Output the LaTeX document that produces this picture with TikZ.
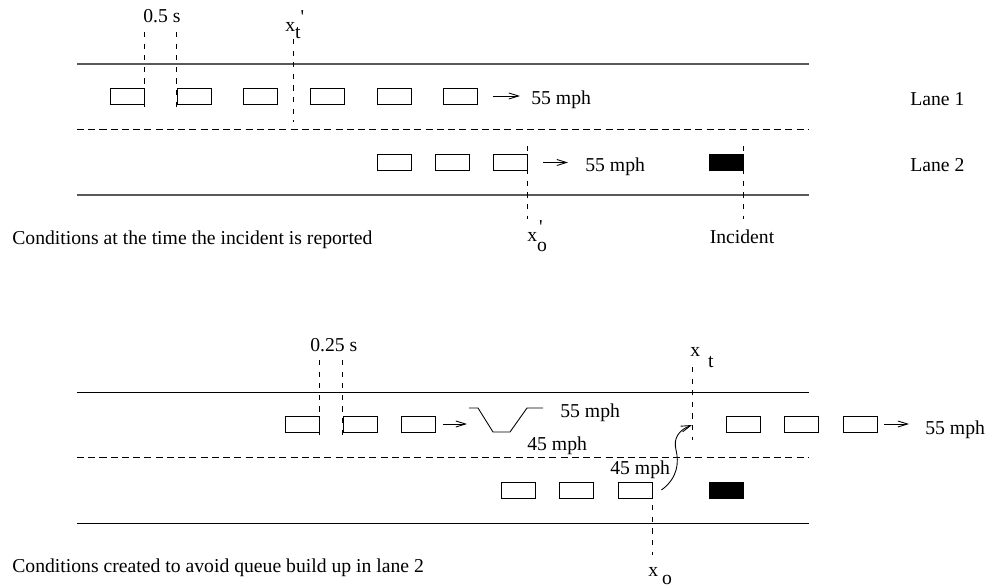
\documentclass[tikz,border=0pt]{standalone}
\usepackage{fontspec}
\setmainfont{Liberation Serif}
\newfontfamily\timesf{Liberation Serif}
\usepackage{tikz}
\usetikzlibrary{arrows.meta}

\tikzset{
  car/.style={draw, line width=0.5pt, minimum width=0.68cm, minimum height=0.32cm, inner sep=0pt},
  wreck/.style={car, fill=black},
  txt/.style={font=\timesf\fontsize{11.2}{13}\selectfont, inner sep=0pt},
  road/.style={line width=0.55pt},
  lane/.style={line width=0.55pt, dash pattern=on 4pt off 2.4pt},
  tick/.style={line width=0.5pt, dash pattern=on 3pt off 3.6pt},
  move/.style={line width=0.5pt, -{Straight Barb[length=5.5pt,width=3.4pt]}}
}

\begin{document}
\begin{tikzpicture}[x=0.02cm, y=-0.02cm]
\useasboundingbox (0,0) rectangle (989,587);

% when the incident is reported
\draw[road, line width=0.8pt, gray!70!black] (77,64) -- (809,64);
\draw[lane] (77,129) -- (809,129);
\draw[road, line width=0.8pt, gray!70!black] (77,195) -- (809,195);

\node[car] (a1) at (127,96) {};
\node[car] (a2) at (194,96) {};
\node[car] (a3) at (260,96) {};
\node[car] (a4) at (327,96) {};
\node[car] (a5) at (394,96) {};
\node[car] (a6) at (460,96) {};
\node[txt, anchor=base west] (va) at (531,105) {55 mph};
\draw[move, shorten <=0.32cm, shorten >=0.22cm] (a6.east) -- (va.west |- a6.east);

\node[car] (b1) at (394,162.5) {};
\node[car] (b2) at (452,162.5) {};
\node[car] (b3) at (510,162.5) {};
\node[wreck] (bx) at (726,162.5) {};
\node[txt, anchor=base west] (vb) at (585,172) {55 mph};
\draw[move, shorten <=0.32cm, shorten >=0.34cm] (b3.east) -- (vb.west |- b3.east);

\draw[tick] (a1.east) ++(0,-64) -- ++(0,80);
\draw[tick] (a2.west) ++(0,-64) -- ++(0,80);
\draw[tick] (293,39) -- (293,122);
\draw[tick] (b3.east) ++(0,-16.5) -- ++(0,73);
\draw[tick] (bx.east) ++(0,-16.5) -- ++(0,73);

\node[txt, anchor=base west] (gap1) at (143,23) {0.5 s};
\node[txt, anchor=base west] (xt1) at (285,31.5) {x\raisebox{-0.35em}{t\rlap{\raisebox{0.78em}{'}}}};
\node[txt, anchor=base west] (xo1) at (527,241.5) {x\raisebox{-0.5em}{\rlap{\raisebox{0.93em}{\hspace{0.1em}'}}o}};
\node[txt, anchor=base] (inc) at (742,244) {Incident};
\node[txt, anchor=base west] (ln1) at (910,106) {Lane 1};
\node[txt, anchor=base west] (ln2) at (910,172) {Lane 2};
\node[txt, anchor=base west] (cap1) at (12,245) {Conditions at the time the incident is reported};

% conditions created to avoid the queue
\draw[road] (77,392) -- (809,392);
\draw[lane] (77,457) -- (809,457);
\draw[road] (77,523) -- (809,523);

\node[car] (c1) at (302,424) {};
\node[car] (c2) at (360,424) {};
\node[car] (c3) at (418,424) {};
\node[car] (c4) at (743,424) {};
\node[car] (c5) at (801,424) {};
\node[car] (c6) at (860,424) {};
\node[car] (d1) at (518,490) {};
\node[car] (d2) at (576,490) {};
\node[car] (d3) at (635,490) {};
\node[wreck] (dx) at (726,490) {};

\coordinate (slow) at (469,408);
\coordinate (merge) at (692,425);
\draw[move, shorten <=0.16cm, shorten >=0.04cm] (c3.east) -- (slow |- c3.east);
\draw[line width=0.5pt] (slow) -- ++(9,0) -- ++(15,24) -- ++(17,0) -- ++(17,-24) -- ++(16,0);

\node[txt, anchor=base west] (vc) at (560,417) {55 mph};
\node[txt, anchor=base west] (vd) at (527,450) {45 mph};
\node[txt, anchor=base west] (ve) at (610,474) {45 mph};
\node[txt, anchor=base west] (vf) at (925,434) {55 mph};
\draw[move, shorten <=0.14cm, shorten >=0.32cm] (c6.east) -- (vf.west |- c6.east);

\draw[tick] (c1.east) ++(0,-64) -- ++(0,78);
\draw[tick] (c2.west) ++(0,-64) -- ++(0,78);
\draw[tick] (merge) ++(0,-58) -- ++(0,73);
\draw[tick] (d3.east) ++(0,-8) -- ++(0,73);
\draw[move] ([xshift=0.18cm]d3.east) .. controls (678,478) and (679,462) .. (676,450)
  .. controls (673,438) and (679,430) .. (merge);

\node[txt, anchor=base west] (gap2) at (310,351) {0.25 s};
\node[txt, anchor=base west] (xt2) at (690,356.5) {x\hspace{0.4em}\raisebox{-0.55em}{t}};
\node[txt, anchor=base west] (xo2) at (648,576.5) {x\hspace{0.2em}\raisebox{-0.4em}{o}};
\node[txt, anchor=base west] (cap2) at (12,572) {Conditions created to avoid queue build up in lane 2};
\end{tikzpicture}
\end{document}
